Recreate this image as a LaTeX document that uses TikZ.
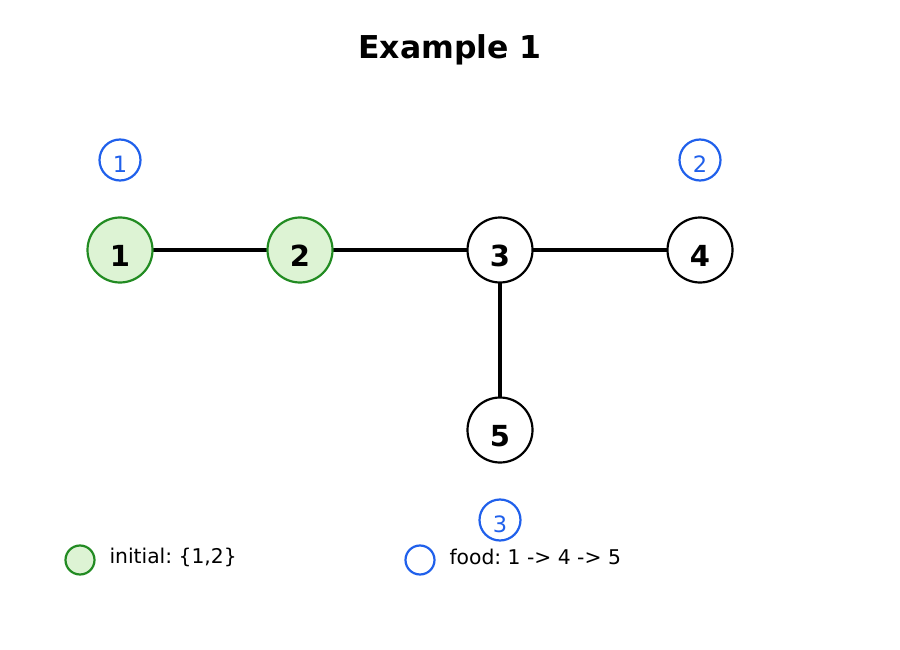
\documentclass[tikz,border=0pt]{standalone}
\usepackage{fontspec}
\setmainfont{DejaVu Sans}
\frenchspacing
\definecolor{gedge}{RGB}{34,139,34}
\definecolor{gfill}{RGB}{221,243,212}
\definecolor{fblue}{RGB}{32,96,235}
\begin{document}
\begin{tikzpicture}[x=1pt,y=-1pt,
  gnode/.style={circle,draw=black,line width=2.2pt,fill=white,minimum size=65pt,inner sep=0pt},
  ginit/.style={gnode,draw=gedge,fill=gfill},
  nlab/.style={font=\fontsize{29}{32}\selectfont\bfseries},
  foodc/.style={circle,draw=fblue,line width=2.2pt,minimum size=41pt,inner sep=0pt},
  flab/.style={font=\fontsize{22.5}{26}\selectfont,text=fblue},
  edge/.style={line width=3.5pt},
  legtxt/.style={font=\fontsize{20.3}{24}\selectfont\frenchspacing,anchor=west},
  legc/.style={circle,line width=2.2pt,minimum size=29pt,inner sep=0pt}]
\useasboundingbox (0,0) rectangle (900,650);
\node[font=\fontsize{31.5}{36}\selectfont\bfseries] (title) at (450,50) {Example 1};
\coordinate (c1) at (120,250);
\coordinate (c2) at (300,250);
\coordinate (c3) at (500,250);
\coordinate (c4) at (700,250);
\coordinate (c5) at (500,430);
\draw[edge] (c1) -- (c2);
\draw[edge] (c2) -- (c3);
\draw[edge] (c3) -- (c4);
\draw[edge] (c3) -- (c5);
\node[ginit] (n1) at (c1) {};
\node[ginit] (n2) at (c2) {};
\node[gnode] (n3) at (c3) {};
\node[gnode] (n4) at (c4) {};
\node[gnode] (n5) at (c5) {};
\node[nlab] (l1) at (120,256) {1};
\node[nlab] (l2) at (300,256) {2};
\node[nlab] (l3) at (500,256) {3};
\node[nlab] (l4) at (700,256) {4};
\node[nlab] (l5) at (500,436) {5};
\node[foodc] (f1) at (120,160) {};
\node[foodc] (f2) at (700,160) {};
\node[foodc] (f3) at (500,520) {};
\node[flab] (fl1) at (120,164.5) {1};
\node[flab] (fl2) at (700,164.5) {2};
\node[flab] (fl3) at (500,524.5) {3};
\node[legc,draw=gedge,fill=gfill] (lg1) at (80,560) {};
\node[legtxt] (lt1) at (106,557) {initial: \{1,2\}};
\node[legc,draw=fblue] (lg2) at (420,560) {};
\node[legtxt] (lt2) at (446,557) {food: 1 -> 4 -> 5};
\end{tikzpicture}
\end{document}
